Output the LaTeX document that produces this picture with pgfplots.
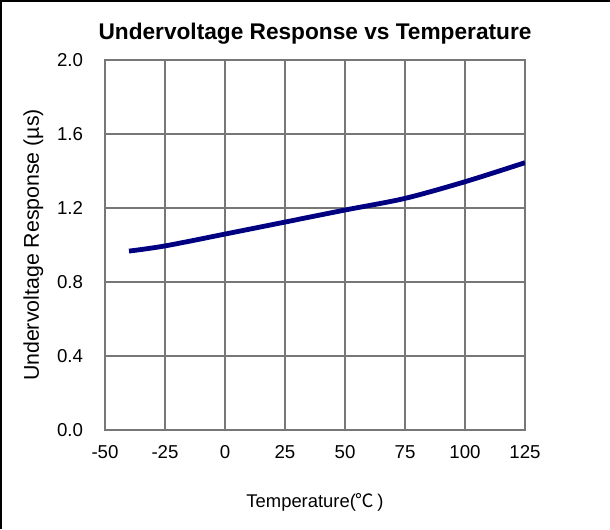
\documentclass[border=0pt]{standalone}
\usepackage{pgfplots}
\pgfplotsset{compat=1.18}
\usepackage{fontspec}
\setmainfont{Liberation Sans}
\newfontfamily\cjk{Noto Sans CJK SC}
\definecolor{navyline}{HTML}{000080}
\definecolor{gridgray}{HTML}{777777}
\begin{document}
\begin{tikzpicture}
\path[use as bounding box] (0pt,0pt) rectangle (457.5pt,396.75pt);
\draw[black, line width=1.2pt] (0.75pt,0pt) -- (0.75pt,396pt) -- (457.5pt,396pt);
\begin{axis}[
  at={(78.75pt,74.25pt)}, anchor=south west,
  scale only axis, width=315pt, height=277.5pt,
  xmin=-50, xmax=125, ymin=0, ymax=2.0,
  xtick={-50,-25,0,25,50,75,100,125},
  ytick={0,0.4,0.8,1.2,1.6,2.0},
  yticklabel style={/pgf/number format/fixed, /pgf/number format/fixed zerofill, /pgf/number format/precision=1, xshift=-13pt},
  /pgf/number format/assume math mode=true,
  tick style={draw=none},
  grid=major,
  major grid style={gridgray, line width=0.8pt},
  axis line style={gridgray, line width=0.8pt},
  ticklabel style={font=\fontsize{14}{16}\selectfont},
  xticklabel style={yshift=-8pt},
  title={\textbf{Undervoltage Response vs Temperature}},
  title style={font=\fontsize{17}{20}\selectfont, yshift=2.5pt},
  xlabel={Temperature({\cjk ℃}\,)},
  xlabel style={font=\fontsize{13.8}{16}\selectfont, yshift=-19pt},
  ylabel={Undervoltage Response (µs)},
  ylabel style={font=\fontsize{16}{18}\selectfont, yshift=3.5pt},
]
\addplot[navyline, line width=3.6pt, smooth] coordinates {
(-40,0.967) (-25,0.995) (0,1.059) (25,1.124) (50,1.189) (75,1.252) (100,1.342) (125,1.445)
};
\end{axis}
\end{tikzpicture}
\end{document}
